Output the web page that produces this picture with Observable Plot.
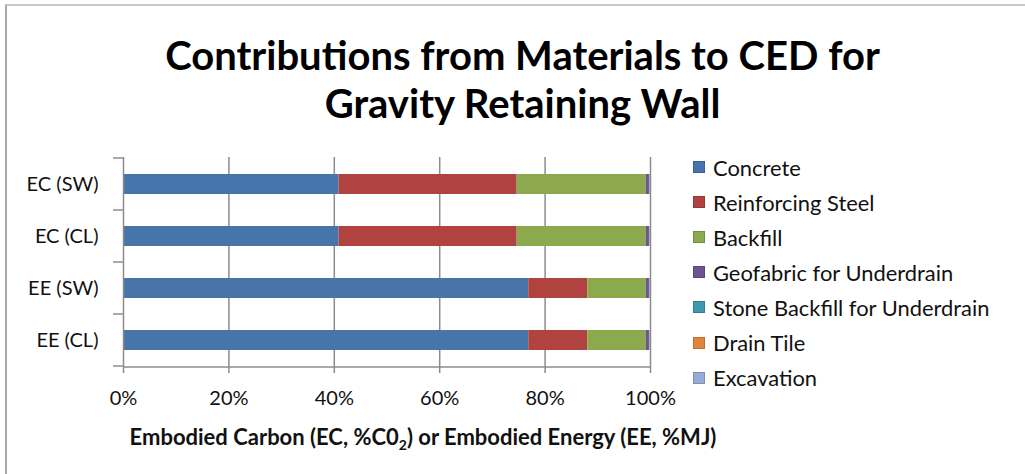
<!DOCTYPE html>
<html>
<head>
<meta charset="utf-8">
<script src="https://cdn.jsdelivr.net/npm/d3@7"></script>
<script src="https://cdn.jsdelivr.net/npm/@observablehq/plot@0.6"></script>
<style>
  html, body { margin: 0; padding: 0; background: #fff; }
  #chart {
    position: relative; width: 1025px; height: 474px; overflow: hidden;
    font-family: Lato, "Open Sans", sans-serif; color: #111;
  }
  #border {
    position: absolute; left: 5px; top: 4px; right: -10px; bottom: -10px;
    border-left: 2px solid #a9a9a9; border-top: 2px solid #c8c8c8;
  }
  #title {
    position: absolute; left: 0; top: 31px; width: 1045px; text-align: center;
    font-weight: 700; font-size: 40px; line-height: 48px; color: #000;
  }
  #xlabel {
    position: absolute; left: 0; width: 846px; top: 423px; text-align: center;
    font-weight: 700; font-size: 22px; line-height: 28px; white-space: nowrap;
  }
  #legend { position: absolute; left: 693px; top: 156px; }
  .item { position: absolute; left: 0; height: 22px; display: flex; align-items: center; white-space: nowrap; font-size: 21.9px; }
  .sw { width: 12px; height: 12px; margin-right: 8px; box-sizing: border-box; }
  #plot { position: absolute; left: 0; top: 0; }
</style>
</head>
<body>
<div id="chart">
  <div id="border"></div>
  <div id="title">Contributions from Materials to CED for<br>Gravity Retaining Wall</div>
  <div id="plot"></div>
  <div id="xlabel">Embodied Carbon (EC, %C0<sub style="font-size:14px; line-height:0">2</sub>) or Embodied Energy (EE, %MJ)</div>
  <div id="legend"></div>
</div>
<script>
// Share of each material in the cumulative energy demand (percent of the total)
const rows = ["EC (SW)", "EC (CL)", "EE (SW)", "EE (CL)"];
const materials = [
  "Concrete",
  "Reinforcing Steel",
  "Backfill",
  "Geofabric for Underdrain",
  "Stone Backfill for Underdrain",
  "Drain Tile",
  "Excavation"
];
const colors = ["#4674ab", "#b0433f", "#8ca94d", "#6d5594", "#3f98b0", "#e3843d", "#96acd6"];

const concrete      = [40.9, 40.9, 76.9, 76.9];
const steel         = [33.8, 33.8, 11.2, 11.2];
const backfill      = [24.5, 24.5, 11.1, 11.1];
const geofabric     = [0.6, 0.6, 0.6, 0.6];
const stoneBackfill = [0.1, 0.1, 0.1, 0.1];
const drainTile     = [0.05, 0.05, 0.05, 0.05];
const excavation    = [0.05, 0.05, 0.05, 0.05];

const xTicks = [0, 20, 40, 60, 80, 100];

const series = [concrete, steel, backfill, geofabric, stoneBackfill, drainTile, excavation];
const table = [];
rows.forEach((row, i) => {
  materials.forEach((material, j) => {
    table.push({row, material, value: series[j][i]});
  });
});

const axisGray = "#8c8c8c";
const textColor = "#111";

// Category boundary ticks on the left axis, plus the bottom axis line
function categoryTicks(index, scales, values, dimensions) {
  const y = scales.y;
  const bw = y.bandwidth();
  const x0 = dimensions.marginLeft;
  const edges = rows.map(r => y(r)).concat([y(rows[rows.length - 1]) + bw]);
  const g = d3.create("svg:g").attr("stroke", axisGray).attr("stroke-width", 1.5);
  g.selectAll("line.edge").data(edges).join("line")
    .attr("class", "edge")
    .attr("x1", x0 - 10).attr("x2", x0)
    .attr("y1", d => d).attr("y2", d => d);
  const yb = dimensions.height - dimensions.marginBottom;
  g.append("line")
    .attr("x1", x0).attr("x2", dimensions.width - dimensions.marginRight)
    .attr("y1", yb).attr("y2", yb);
  return g.node();
}

const chart = Plot.plot({
  width: 1025,
  height: 474,
  marginLeft: 123,
  marginRight: 375,
  marginTop: 157,
  marginBottom: 107,
  style: {fontFamily: "Lato, 'Open Sans', sans-serif", background: "transparent", color: textColor},
  x: {domain: [0, 100]},
  y: {domain: rows, padding: 0},
  color: {domain: materials, range: colors},
  marks: [
    Plot.gridX({ticks: xTicks.slice(1), stroke: axisGray, strokeOpacity: 1, strokeWidth: 1.5}),
    Plot.barX(table, Plot.stackX({x: "value", y: "row", fill: "material", insetTop: 16, insetBottom: 16})),
    Plot.ruleX([0], {stroke: axisGray, strokeWidth: 1.5}),
    categoryTicks,
    Plot.axisX({ticks: xTicks, tickFormat: d => d + "%", tickSize: 6, tickPadding: 17,
      fontSize: 20, label: null, stroke: axisGray, strokeWidth: 1.5, fill: textColor}),
    Plot.axisY({tickSize: 0, tickPadding: 25, fontSize: 20, label: null, fill: textColor})
  ]
});
document.getElementById("plot").appendChild(chart);

// Legend built from the same materials and colours
const legend = d3.select("#legend");
materials.forEach((m, i) => {
  const item = legend.append("div").attr("class", "item").style("top", (i * 35.1) + "px");
  item.append("div").attr("class", "sw")
    .style("background", colors[i])
    .style("border", "1px solid " + d3.color(colors[i]).darker(0.5));
  item.append("span").text(m);
});
</script>
</body>
</html>
